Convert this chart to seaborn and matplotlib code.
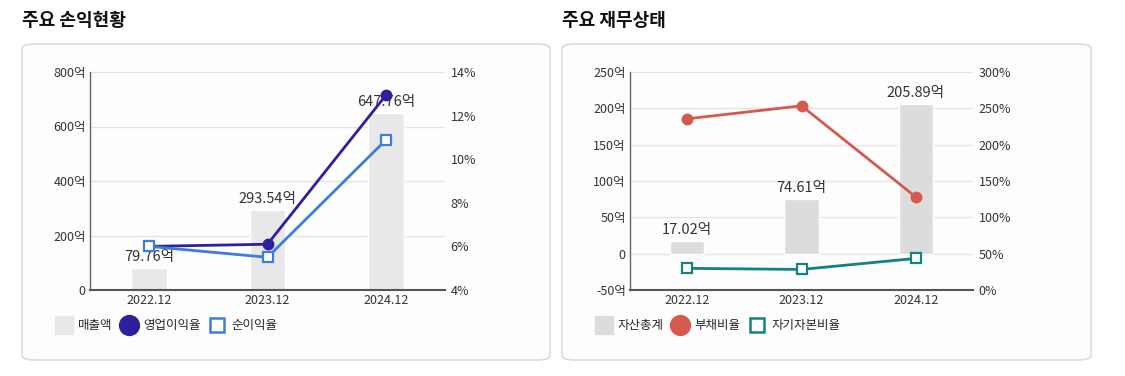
import seaborn as sns
import matplotlib.pyplot as plt
from matplotlib.patches import FancyBboxPatch
from matplotlib.lines import Line2D

# 데이터
years = ["2022.12", "2023.12", "2024.12"]
sales = [79.76, 293.54, 647.76]          # 매출액 (억)
op_margin = [6.0, 6.1, 12.93]            # 영업이익율 (%)
net_margin = [6.0, 5.5, 10.88]           # 순이익율 (%)

assets = [17.02, 74.61, 205.89]          # 자산총계 (억)
debt_ratio = [235.6, 253.5, 128.0]       # 부채비율 (%)
equity_ratio = [29.8, 28.3, 43.5]        # 자기자본비율 (%)

sns.set_theme(style="white")
plt.rcParams['font.family'] = ['Noto Sans CJK KR', 'DejaVu Sans']

fig = plt.figure(figsize=(11.25, 3.76), dpi=100)
W, H = 1125, 376

def fx(px):
    return px / W

def fy(py):
    return 1 - py / H

# 카드 배경
for x0, x1 in [(22, 550), (562, 1091)]:
    card = FancyBboxPatch((fx(x0), fy(360)), fx(x1 - x0), (360 - 44) / H,
                          boxstyle="round,pad=0,rounding_size=0.012",
                          transform=fig.transFigure, facecolor="#fdfdfd",
                          edgecolor="#dcdcdc", linewidth=1.2, zorder=-5)
    fig.patches.append(card)

fig.text(fx(22), fy(20), "주요 손익현황", fontsize=13, fontweight="bold",
         va="center", ha="left", color="#111111")
fig.text(fx(562), fy(20), "주요 재무상태", fontsize=13, fontweight="bold",
         va="center", ha="left", color="#111111")


def draw_panel(left_px, right_px, bars, bar_color, lines, ylim, yticks, ylabels,
               y2lim, y2ticks, y2labels, legend_labels, legend_x):
    ax = fig.add_axes([fx(left_px), fy(290), fx(right_px - left_px), (290 - 72) / H])
    ax.set_facecolor("none")
    sns.barplot(x=years, y=bars, ax=ax, color=bar_color, width=0.3,
                saturation=1, zorder=2)
    ax.set_ylim(*ylim)
    ax.set_yticks(yticks)
    ax.set_yticklabels(ylabels)
    ax.set_xlim(-0.5, 2.5)
    for y in yticks:
        ax.axhline(y, color="#e4e4e4", linewidth=1, zorder=1)
    for i, v in enumerate(bars):
        ax.text(i, v + (ylim[1] - ylim[0]) * 0.02, f"{v:.2f}억", ha="center",
                va="bottom", fontsize=10.5, color="#333333", zorder=3)
    for s in ["top", "right"]:
        ax.spines[s].set_visible(False)
    ax.spines["left"].set_color("#666666")
    ax.spines["left"].set_linewidth(1)
    ax.spines["bottom"].set_color("#555555")
    ax.spines["bottom"].set_linewidth(1.5)
    ax.tick_params(axis="both", length=0, labelsize=9, colors="#333333", pad=3)

    ax2 = ax.twinx()
    handles = [Line2D([], [], linestyle="none", marker="s", markersize=12.5,
                      markerfacecolor=bar_color, markeredgecolor=bar_color)]
    for vals, color, marker, hollow in lines:
        sns.pointplot(x=years, y=vals, ax=ax2, color=color, markers=marker,
                      errorbar=None, linewidth=2, markersize=7, zorder=4)
        ln = ax2.lines[-1]
        if hollow:
            ln.set_markerfacecolor("white")
            ln.set_markeredgecolor(color)
            ln.set_markeredgewidth(1.6)
        handles.append(Line2D([], [], linestyle="none", marker=marker,
                              markersize=13.5 if marker == "o" else 9.5,
                              markerfacecolor="white" if hollow else color,
                              markeredgecolor=color, markeredgewidth=1.8))
    ax2.set_ylim(*y2lim)
    ax2.set_yticks(y2ticks)
    ax2.set_yticklabels(y2labels)
    ax2.set_xlim(-0.5, 2.5)
    ax2.set_ylabel("")
    for s in ["top", "right", "left", "bottom"]:
        ax2.spines[s].set_visible(False)
    ax2.tick_params(axis="y", length=0, labelsize=9, colors="#333333", pad=4)
    ax.set_xticks(range(len(years)))
    ax.set_xticklabels(years)

    fig.legend(handles, legend_labels, loc="center left",
               bbox_to_anchor=(fx(legend_x), fy(326)), ncol=3, frameon=False,
               fontsize=9, handletextpad=0.55, columnspacing=0.7,
               handlelength=1.2, borderaxespad=0, borderpad=0)


draw_panel(90, 445, sales, "#e8e8e8",
           [(op_margin, "#2d1f9e", "o", False), (net_margin, "#3d7ddb", "s", True)],
           (0, 800), [0, 200, 400, 600, 800],
           ["0", "200억", "400억", "600억", "800억"],
           (4, 14), [4, 6, 8, 10, 12, 14], ["4%", "6%", "8%", "10%", "12%", "14%"],
           ["매출액", "영업이익율", "순이익율"], 56)

draw_panel(630, 973, assets, "#dcdcdc",
           [(debt_ratio, "#d55a4e", "o", False), (equity_ratio, "#138282", "s", True)],
           (-50, 250), [-50, 0, 50, 100, 150, 200, 250],
           ["-50억", "0", "50억", "100억", "150억", "200억", "250억"],
           (0, 300), [0, 50, 100, 150, 200, 250, 300],
           ["0%", "50%", "100%", "150%", "200%", "250%", "300%"],
           ["자산총계", "부채비율", "자기자본비율"], 596)

fig.savefig("out.png", dpi=100)
